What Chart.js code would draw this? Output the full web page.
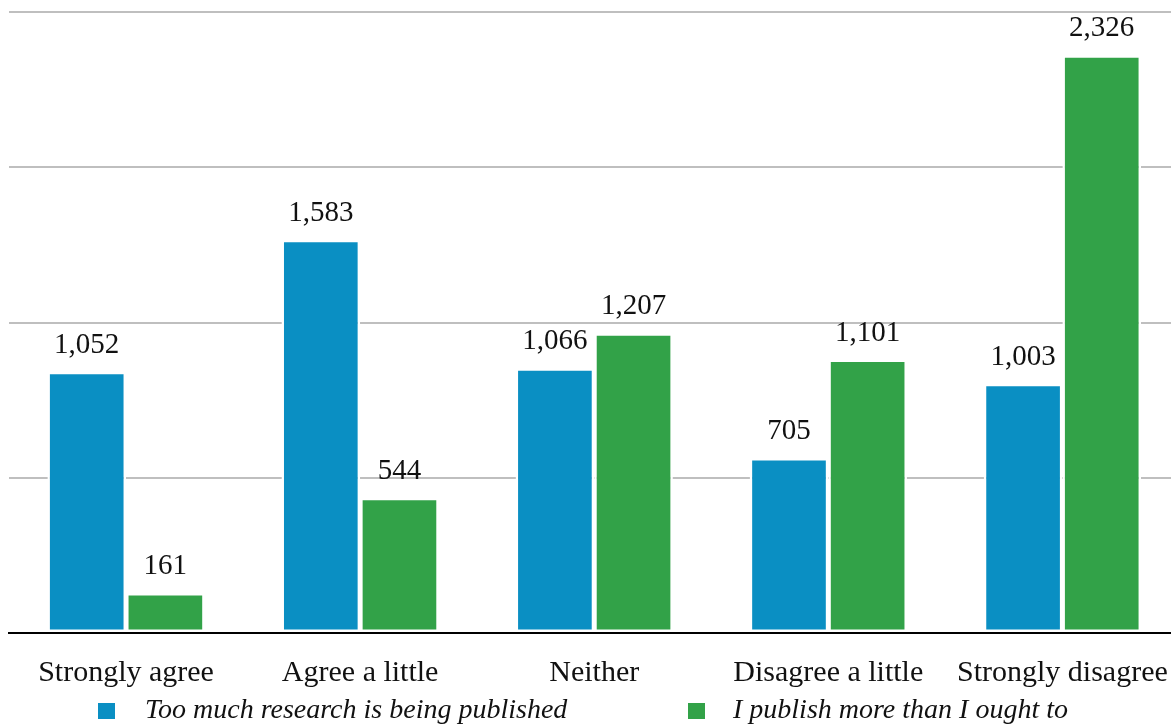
<!DOCTYPE html>
<html>
<head>
<meta charset="utf-8">
<script src="https://cdn.jsdelivr.net/npm/chart.js@4.4.1/dist/chart.umd.min.js"></script>
<style>
  html, body { margin: 0; padding: 0; overflow: hidden; background: #fff; width: 1171px; height: 727px; }
  #frame { position: relative; width: 1171px; height: 727px; overflow: hidden; }
  #c { position: absolute; left: 0; top: 0; width: 1190px; height: 727px; }
</style>
</head>
<body>
<div id="frame"><canvas id="c" width="1190" height="727"></canvas></div>
<script>
// Survey responses per agreement level
const categories = ['Strongly agree', 'Agree a little', 'Neither', 'Disagree a little', 'Strongly disagree'];
const tooMuchResearch = [1052, 1583, 1066, 705, 1003];
const publishMoreThanOught = [161, 544, 1207, 1101, 2326];
const seriesNames = ['Too much research is being published', 'I publish more than I ought to'];
const seriesColors = ['#0A8FC3', '#32A248'];
const yMax = 2500;
const yStep = 625;

const SERIF = '"Liberation Serif", "Times New Roman", serif';

// Writes each bar's count above it
const valueLabels = {
  id: 'valueLabels',
  afterDatasetsDraw(chart) {
    const ctx = chart.ctx;
    ctx.save();
    ctx.font = '29px ' + SERIF;
    ctx.fillStyle = '#111';
    ctx.textAlign = 'center';
    ctx.textBaseline = 'alphabetic';
    chart.data.datasets.forEach((ds, i) => {
      chart.getDatasetMeta(i).data.forEach((bar, j) => {
        ctx.fillText(ds.data[j].toLocaleString('en-US'), bar.x, bar.y - 19);
      });
    });
    ctx.restore();
  }
};

// Legend row under the category labels
const bottomLegend = {
  id: 'bottomLegend',
  afterDraw(chart) {
    const ctx = chart.ctx;
    const slots = [{ box: 98, text: 145 }, { box: 688, text: 733 }];
    ctx.save();
    ctx.font = 'italic 28px ' + SERIF;
    ctx.textAlign = 'left';
    ctx.textBaseline = 'alphabetic';
    chart.data.datasets.forEach((ds, i) => {
      const s = slots[i];
      ctx.fillStyle = ds.backgroundColor;
      ctx.fillRect(s.box, 703, 17, 16);
      ctx.fillStyle = '#111';
      ctx.fillText(ds.label, s.text, 718);
    });
    ctx.restore();
  }
};

new Chart(document.getElementById('c'), {
  type: 'bar',
  data: {
    labels: categories,
    datasets: [
      { label: seriesNames[0], data: tooMuchResearch, backgroundColor: seriesColors[0] },
      { label: seriesNames[1], data: publishMoreThanOught, backgroundColor: seriesColors[1] }
    ]
  },
  options: {
    responsive: false,
    maintainAspectRatio: false,
    devicePixelRatio: 1,
    animation: false,
    events: [],
    layout: { padding: { left: 9, right: 2, top: 12, bottom: 0 } },
    datasets: {
      bar: {
        categoryPercentage: 0.672,
        barPercentage: 1.0,
        borderColor: '#ffffff',
        borderWidth: 2.5,
        borderSkipped: false
      }
    },
    plugins: {
      legend: { display: false },
      tooltip: { enabled: false }
    },
    scales: {
      x: {
        grid: { display: false, drawTicks: false },
        border: { display: true, color: '#000', width: 2 },
        ticks: {
          color: '#111',
          font: { family: SERIF, size: 30 },
          padding: 22,
          maxRotation: 0,
          autoSkip: false
        },
        afterFit(scale) { scale.height = 94; }
      },
      y: {
        min: 0,
        max: yMax,
        ticks: { display: false, stepSize: yStep },
        border: { display: false },
        grid: {
          drawTicks: false,
          lineWidth: 2,
          color: (c) => (c.tick && c.tick.value === 0 ? 'rgba(0,0,0,0)' : '#bfbfbf')
        }
      }
    }
  },
  plugins: [valueLabels, bottomLegend]
});
</script>
</body>
</html>
